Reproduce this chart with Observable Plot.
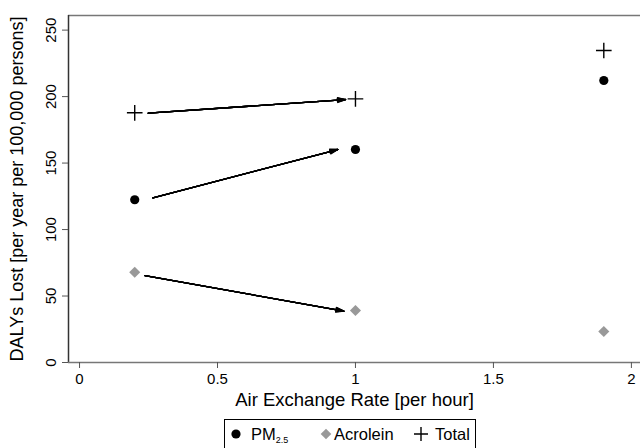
<!DOCTYPE html>
<html>
<head>
<meta charset="utf-8">
<script src="https://cdn.jsdelivr.net/npm/d3@7"></script>
<script src="https://cdn.jsdelivr.net/npm/@observablehq/plot@0.6"></script>
<style>
  html, body { margin: 0; padding: 0; background: #fff; overflow: hidden; }
  #wrap { position: relative; width: 640px; height: 448px; font-family: "Liberation Sans", Arial, sans-serif; }
  #legend { position: absolute; left: 224px; top: 419px; width: 252px; height: 34px; box-sizing: border-box;
            border: 1px solid #000; background: #fff; font-size: 16.5px; color: #000; }
  .item { position: absolute; top: 3px; height: 22px; line-height: 22px; white-space: nowrap; }
  .item svg { position: absolute; top: 0; }
  sub { font-size: 9px; vertical-align: -3px; line-height: 0; }
</style>
</head>
<body>
<div id="wrap">
  <div id="chart"></div>
  <div id="legend"></div>
</div>
<script>
// ---- data ----
const airExchange = [0.2, 1, 1.9];
const pm25 = [122.4, 160.2, 212.1];
const acrolein = [67.9, 39.1, 23.3];
const total = [187.8, 198.3, 234.7];

// arrows (start at 0.2 h^-1, end at 1 h^-1)
const arrowFromX = [0.249, 0.266, 0.237];
const arrowFromY = [187.5, 123.9, 65.4];
const arrowToX = [0.964, 0.936, 0.958];
const arrowToY = [197.8, 160.2, 38.6];

const xTicks = [0, 0.5, 1, 1.5, 2];
const yTicks = [0, 50, 100, 150, 200, 250];
const xTitle = "Air Exchange Rate [per hour]";
const yTitle = "DALYs Lost [per year per 100,000 persons]";
const seriesNames = ["PM", "Acrolein", "Total"];

// ---- tables ----
const pmData = airExchange.map((x, i) => ({x, y: pm25[i]}));
const acroData = airExchange.map((x, i) => ({x, y: acrolein[i]}));
const totalData = airExchange.map((x, i) => ({x, y: total[i]}));
const arrows = arrowFromX.map((x1, i) => ({x1, y1: arrowFromY[i], x2: arrowToX[i], y2: arrowToY[i]}));

const xDomain = [-0.04, 2.033];
const yDomain = [0, 261];

// stacked arrowheads to emulate a filled head
const headAngles = [34, 27, 20, 13, 6, 1];

const chart = Plot.plot({
  width: 640,
  height: 419,
  marginLeft: 68,
  marginRight: 0,
  marginTop: 15,
  marginBottom: 57,
  style: {fontFamily: "'Liberation Sans', Arial, sans-serif", color: "#000", background: "#fff", overflow: "visible"},
  x: {domain: xDomain},
  y: {domain: yDomain},
  marks: [
    Plot.ruleY([yDomain[1]], {stroke: "#777", strokeWidth: 1.3}),
    Plot.ruleX([xDomain[0]], {stroke: "#333", strokeWidth: 1.5}),
    Plot.ruleY([0], {stroke: "#777", strokeWidth: 1.5}),
    Plot.axisX(xTicks, {tickSize: 6, tickPadding: 5, fontSize: 15, stroke: "#555", tickFormat: d => String(d), label: null}),
    Plot.axisY(yTicks, {tickSize: 6, tickPadding: 7, tickRotate: -90, fontSize: 15, stroke: "#555", tickFormat: d => String(d), label: null}),
    Plot.text([xTitle], {frameAnchor: "bottom", dy: 38, fontSize: 18.5, lineAnchor: "middle", textAnchor: "middle", text: d => d}),
    Plot.text([yTitle], {frameAnchor: "left", dx: -51, rotate: -90, fontSize: 18, lineAnchor: "middle", textAnchor: "middle", text: d => d}),
    ...headAngles.map(a => Plot.arrow(arrows, {x1: "x1", y1: "y1", x2: "x2", y2: "y2", stroke: "#000", strokeWidth: 1.3, headAngle: a, headLength: 9.5})),
    Plot.dot(pmData, {x: "x", y: "y", r: 4.6, fill: "#000", symbol: "circle"}),
    Plot.dot(acroData, {x: "x", y: "y", r: 5, fill: "#999", symbol: "diamond2"}),
    Plot.dot(totalData, {x: "x", y: "y", r: 5.1, stroke: "#000", strokeWidth: 1.4, symbol: "plus"})
  ]
});
document.getElementById("chart").appendChild(chart);

// ---- legend ----
const legend = document.getElementById("legend");
const items = [
  {left: 6, name: seriesNames[0], sub: "2.5", svg: '<circle cx="5" cy="11" r="4.6" fill="#000"/>', gap: 20},
  {left: 96, name: seriesNames[1], sub: "", svg: '<path d="M5,5.7L10.3,11L5,16.3L-0.3,11Z" fill="#999"/>', gap: 13},
  {left: 191, name: seriesNames[2], sub: "", svg: '<path d="M-2,11H12M5,4V18" stroke="#000" stroke-width="1.4" fill="none"/>', gap: 19}
];
items.forEach(it => {
  const d = document.createElement("div");
  d.className = "item";
  d.style.left = it.left + "px";
  d.innerHTML = '<svg width="14" height="22" style="left:0;overflow:visible">' + it.svg + '</svg>' +
    '<span style="position:absolute;left:' + it.gap + 'px">' + it.name +
    (it.sub ? '<sub>' + it.sub + '</sub>' : '') + '</span>';
  legend.appendChild(d);
});
</script>
</body>
</html>
